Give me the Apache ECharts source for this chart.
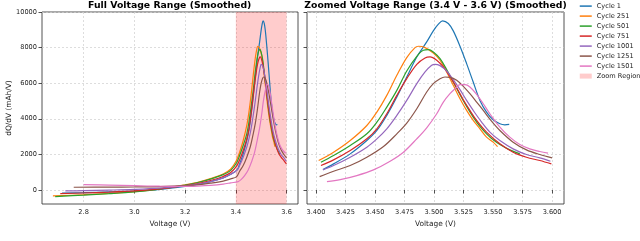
<!DOCTYPE html>
<html><head><meta charset="utf-8">
<script src="https://cdn.jsdelivr.net/npm/echarts@6/dist/echarts.min.js"></script>
<style>html,body{margin:0;padding:0;background:#fff}#c{width:640px;height:241px}</style>
</head><body><div id="c"></div>
<script>
const cycleNames = ['Cycle 1','Cycle 251','Cycle 501','Cycle 751','Cycle 1001','Cycle 1251','Cycle 1501'];
const cycleColors = ['#1f77b4','#ff7f0e','#2ca02c','#d62728','#9467bd','#8c564b','#e377c2'];

const v1 = [2.715,2.8,2.9,3.0,3.1,3.2,3.25,3.3,3.35,3.38,3.4059,3.4149,3.4290,3.4431,3.4516,3.4600,3.4685,3.4769,3.4854,3.4938,3.4994,3.5037,3.5073,3.5121,3.5163,3.5220,3.5276,3.5332,3.5389,3.5445,3.5501,3.5558,3.5600,3.5637];
const q1 = [-180,-150,-110,-60,30,200,320,470,680,880,1146,1465,2028,2779,3343,4188,5221,6348,7474,8319,8939,9314,9502,9352,8939,8075,7099,6066,5033,4376,3944,3718,3662,3681];

const v251 = [2.679,2.8,2.9,3.0,3.1,3.2,3.25,3.3,3.35,3.38,3.4023,3.4149,3.4290,3.4431,3.4516,3.4600,3.4685,3.4769,3.4839,3.4868,3.4924,3.4994,3.5051,3.5107,3.5163,3.5220,3.5276,3.5332,3.5389,3.5445,3.5501,3.5538];
const q251 = [-338,-270,-200,-100,60,290,430,640,900,1180,1653,2122,2779,3624,4376,5315,6441,7437,8000,8075,8000,7699,7287,6629,5878,5127,4470,3906,3437,2967,2686,2430];

const v501 = [2.688,2.8,2.9,3.0,3.1,3.2,3.25,3.3,3.35,3.38,3.4042,3.4149,3.4290,3.4431,3.4516,3.4600,3.4685,3.4769,3.4854,3.4910,3.4952,3.4994,3.5051,3.5107,3.5163,3.5220,3.5276,3.5332,3.5389,3.5445,3.5501,3.5558,3.5642,3.5727];
const q501 = [-372,-290,-210,-110,50,280,420,610,860,1100,1559,1934,2498,3155,3812,4657,5596,6686,7512,7850,7888,7756,7381,6761,6066,5353,4695,4094,3568,3155,2817,2554,2254,2028];

const v751 = [2.708,2.8,2.9,3.0,3.1,3.2,3.25,3.3,3.35,3.38,3.4042,3.4149,3.4290,3.4431,3.4516,3.4600,3.4685,3.4769,3.4854,3.4924,3.4966,3.5023,3.5079,3.5135,3.5192,3.5248,3.5304,3.5361,3.5445,3.5558,3.5670,3.5783,3.5896,3.5994];
const q751 = [-203,-170,-120,-50,60,240,360,530,760,980,1371,1690,2216,2873,3437,4282,5315,6254,7061,7418,7474,7287,6911,6385,5747,5071,4470,3906,3249,2592,2122,1840,1653,1465];

const v1001 = [2.728,2.8,2.9,3.0,3.1,3.2,3.25,3.3,3.35,3.38,3.4059,3.4149,3.4290,3.4431,3.4516,3.4600,3.4685,3.4769,3.4854,3.4924,3.4980,3.5008,3.5051,3.5107,3.5163,3.5220,3.5276,3.5332,3.5403,3.5473,3.5558,3.5670,3.5783,3.5896,3.5986];
const q1001 = [-56,-40,-10,30,100,230,330,470,680,880,1127,1371,1840,2404,2873,3437,4188,5033,5972,6629,7005,7061,6986,6686,6197,5634,5033,4470,3812,3249,2779,2310,1991,1803,1615];

const v1251 = [2.761,2.9,3.0,3.1,3.2,3.25,3.3,3.35,3.38,3.4031,3.4149,3.4290,3.4431,3.4572,3.4685,3.4769,3.4854,3.4938,3.4994,3.5051,3.5093,3.5135,3.5192,3.5248,3.5304,3.5361,3.5417,3.5487,3.5558,3.5670,3.5783,3.5896,3.6000];
const q1251 = [152,160,170,190,240,290,380,500,620,751,1052,1371,1840,2441,3155,3756,4564,5503,5972,6254,6348,6329,6160,5822,5409,4939,4470,3869,3343,2686,2254,1991,1803];

const v1501 = [2.80,2.9,3.0,3.1,3.2,3.25,3.3,3.35,3.38,3.4093,3.4206,3.4346,3.4487,3.4628,3.4741,3.4854,3.4938,3.5023,3.5079,3.5135,3.5178,3.5220,3.5262,3.5304,3.5361,3.5417,3.5473,3.5558,3.5642,3.5727,3.5811,3.5896,3.5966];
const q1501 = [304,270,240,210,200,220,260,330,400,470,582,808,1127,1615,2122,2873,3493,4282,4939,5409,5691,5916,5916,5784,5371,4845,4282,3531,2967,2554,2310,2160,2066];

const cycleV = [v1,v251,v501,v751,v1001,v1251,v1501];
const cycleQ = [q1,q251,q501,q751,q1001,q1251,q1501];

const zoomRegion = [3.4, 3.6];
const xTicksFull = [2.8, 3.0, 3.2, 3.4, 3.6];
const xTicksZoom = [3.4, 3.425, 3.45, 3.475, 3.5, 3.525, 3.55, 3.575, 3.6];
const yTicks = [0, 2000, 4000, 6000, 8000, 10000];

const FONT = 'DejaVu Sans';
const frameColor = '#262626';
const gridLine = {show: true, lineStyle: {color: '#cfcfcf', width: 0.7, type: [2, 2]}};
const tick = (vals) => ({show: true, customValues: vals, length: 3.5, inside: false, lineStyle: {color: frameColor, width: 0.8}});
const lbl = {fontSize: 6.6, color: '#222', margin: 5, fontFamily: FONT};
const nameStyle = {fontSize: 7.4, color: '#222', fontFamily: FONT};

const chart = echarts.init(document.getElementById('c'), null, {renderer: 'canvas'});

const series = [];
cycleNames.forEach((name, i) => {
  const full = cycleV[i].map((v, k) => [v, cycleQ[i][k]]);
  const zoom = full.filter(p => p[0] >= zoomRegion[0]);
  const common = {type: 'line', name, showSymbol: false, symbol: 'none', smooth: 0.35, color: cycleColors[i],
    lineStyle: {width: 1.2, color: cycleColors[i]}, z: 3 + i, animation: false};
  series.push(Object.assign({}, common, {xAxisIndex: 0, yAxisIndex: 0, data: full}));
  series.push(Object.assign({}, common, {xAxisIndex: 1, yAxisIndex: 1, data: zoom}));
});
series.push({
  type: 'line', name: 'Zoom Region', xAxisIndex: 0, yAxisIndex: 0, data: [], color: 'rgba(255,0,0,0.2)',
  markArea: {silent: true, itemStyle: {color: 'rgba(255,0,0,0.2)'}, data: [[{xAxis: zoomRegion[0]}, {xAxis: zoomRegion[1]}]]},
  z: 1, animation: false
});

const option = {
  animation: false,
  textStyle: {fontFamily: FONT},
  grid: [
    {left: 42, top: 12, width: 256, height: 192, show: true, borderColor: frameColor, borderWidth: 0.8, containLabel: false},
    {left: 307, top: 12, width: 257, height: 192, show: true, borderColor: frameColor, borderWidth: 0.8, containLabel: false}
  ],
  xAxis: [
    {type: 'value', gridIndex: 0, min: 2.636, max: 3.645, axisLine: {show: false},
     axisTick: tick(xTicksFull), splitLine: gridLine,
     axisLabel: Object.assign({customValues: xTicksFull, formatter: v => v.toFixed(1)}, lbl),
     name: 'Voltage (V)', nameLocation: 'middle', nameGap: 10.5, nameTextStyle: nameStyle},
    {type: 'value', gridIndex: 1, min: 3.3924, max: 3.6101, axisLine: {show: false},
     axisTick: tick(xTicksZoom), splitLine: gridLine,
     axisLabel: Object.assign({customValues: xTicksZoom, formatter: v => v.toFixed(3)}, lbl),
     name: 'Voltage (V)', nameLocation: 'middle', nameGap: 10.5, nameTextStyle: nameStyle}
  ],
  yAxis: [
    {type: 'value', gridIndex: 0, min: -789, max: 10000, axisLine: {show: false},
     axisTick: tick(yTicks), splitLine: gridLine,
     axisLabel: Object.assign({customValues: yTicks, formatter: v => String(v)}, lbl),
     name: 'dQ/dV (mAh/V)', nameLocation: 'middle', nameGap: 25.5, nameTextStyle: nameStyle},
    {type: 'value', gridIndex: 1, min: -789, max: 10000, axisLine: {show: false},
     axisTick: tick(yTicks), splitLine: gridLine,
     axisLabel: {show: false, customValues: yTicks}}
  ],
  legend: {
    orient: 'vertical', left: 579, top: 2.6, padding: 0, itemWidth: 12, itemHeight: 7, itemGap: 3,
    textStyle: {fontSize: 6.6, color: '#222', fontFamily: FONT},
    lineStyle: {width: 1.5},
    data: cycleNames.map(n => ({name: n, itemStyle: {opacity: 0}})).concat([{name: 'Zoom Region', icon: 'path://M0,0 H12 V5 H0 Z', itemStyle: {color: 'rgba(255,0,0,0.2)'}}])
  },
  graphic: [
    {type: 'text', x: 169.7, y: 5.2, style: {text: 'Full Voltage Range (Smoothed)', font: 'bold 9.3px "DejaVu Sans"', fill: '#000', textAlign: 'center', textVerticalAlign: 'middle'}},
    {type: 'text', x: 435.5, y: 5.2, style: {text: 'Zoomed Voltage Range (3.4 V - 3.6 V) (Smoothed)', font: 'bold 9.3px "DejaVu Sans"', fill: '#000', textAlign: 'center', textVerticalAlign: 'middle'}}
  ],
  series
};
chart.setOption(option);
</script>
</body></html>
